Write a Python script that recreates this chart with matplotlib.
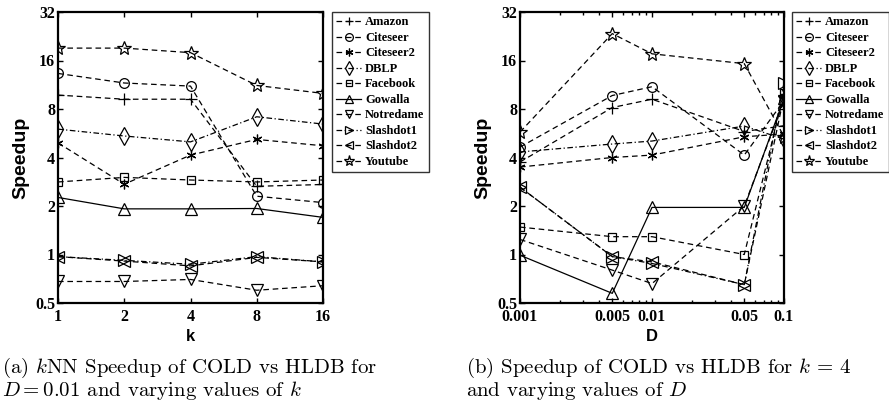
import matplotlib
matplotlib.use("Agg")
import matplotlib.pyplot as plt
from matplotlib.ticker import FixedLocator, FixedFormatter, NullFormatter, LogLocator

plt.rcParams['mathtext.fontset'] = 'cm'

series = ["Amazon", "Citeseer", "Citeseer2", "DBLP", "Facebook",
          "Gowalla", "Notredame", "Slashdot1", "Slashdot2", "Youtube"]

k_vals = [1, 2, 4, 8, 16]
amazon_k = [9.76, 9.2, 9.2, 2.65, 2.72]
citeseer_k = [13.3, 11.6, 11.1, 2.3, 2.1]
citeseer2_k = [4.93, 2.73, 4.14, 5.18, 4.73]
dblp_k = [6.0, 5.44, 5.0, 7.16, 6.45]
facebook_k = [2.82, 3.01, 2.9, 2.82, 2.9]
gowalla_k = [2.26, 1.92, 1.92, 1.93, 1.70]
notredame_k = [0.68, 0.68, 0.70, 0.60, 0.64]
slashdot1_k = [0.97, 0.92, 0.87, 0.97, 0.90]
slashdot2_k = [0.97, 0.91, 0.85, 0.96, 0.90]
youtube_k = [19.1, 19.1, 17.9, 11.2, 10.0]

d_vals = [0.001, 0.005, 0.01, 0.05, 0.1]
amazon_d = [3.75, 8.17, 9.2, 5.8, 6.3]
citeseer_d = [4.64, 9.7, 11.0, 4.14, 9.0]
citeseer2_d = [3.49, 4.0, 4.14, 5.38, 5.6]
dblp_d = [4.33, 4.85, 5.06, 6.27, 5.2]
facebook_d = [1.48, 1.29, 1.29, 1.0, 10.0]
gowalla_d = [0.99, 0.574, 1.96, 1.96, 9.3]
notredame_d = [1.24, 0.80, 0.66, 2.0, 9.0]
slashdot1_d = [2.62, 0.97, 0.88, 0.65, 11.6]
slashdot2_d = [2.62, 0.97, 0.90, 0.65, 9.6]
youtube_d = [5.75, 23.5, 17.6, 15.3, 5.4]

y_ticks = [0.5, 1, 2, 4, 8, 16, 32]
y_ticklabels = ["0.5", "1", "2", "4", "8", "16", "32"]
k_ticklabels = ["1", "2", "4", "8", "16"]
d_ticklabels = ["0.001", "0.005", "0.01", "0.05", "0.1"]

caption_a = [r"(a) $k$NN Speedup of COLD vs HLDB for", r"$D = 0.01$ and varying values of $k$"]
caption_b = [r"(b) Speedup of COLD vs HLDB for $k$ = 4", r"and varying values of $D$"]

data_k = [amazon_k, citeseer_k, citeseer2_k, dblp_k, facebook_k,
          gowalla_k, notredame_k, slashdot1_k, slashdot2_k, youtube_k]
data_d = [amazon_d, citeseer_d, citeseer2_d, dblp_d, facebook_d,
          gowalla_d, notredame_d, slashdot1_d, slashdot2_d, youtube_d]

DASH = (0, (4.5, 3))
DASHDOT = (0, (4.5, 2, 1, 2))
styles = [
    dict(marker='+', linestyle=DASH, ms=8),
    dict(marker='o', linestyle=DASH, ms=7),
    dict(marker=(6, 2, 0), linestyle=DASH, ms=7),
    dict(marker='d', linestyle=DASHDOT, ms=9),
    dict(marker='s', linestyle=DASH, ms=6),
    dict(marker='^', linestyle='-', ms=8),
    dict(marker='v', linestyle=DASH, ms=8),
    dict(marker='>', linestyle=DASHDOT, ms=8),
    dict(marker='<', linestyle=DASH, ms=8),
    dict(marker='*', linestyle=DASH, ms=10),
]

tick_font = dict(family='Liberation Serif', weight='bold', size=11.5)
label_font = dict(family='Liberation Sans', weight='bold')

fig = plt.figure(figsize=(8.89, 4.08), dpi=100)
ax1 = fig.add_axes([58/889, 1-303/408, 265/889, 291/408])
ax2 = fig.add_axes([520/889, 1-303/408, 264/889, 291/408])

def draw(ax, xs, data, xticklabels, xlabel, minor, legx):
    for name, ys, st in zip(series, data, styles):
        ax.plot(xs, ys, color='black', linewidth=0.9, linestyle=st['linestyle'],
                marker=st['marker'], markersize=st['ms'], markerfacecolor='none',
                markeredgecolor='black', markeredgewidth=0.9, label=name)
    ax.set_xscale('log')
    ax.set_yscale('log')
    ax.set_xlim(xs[0], xs[-1])
    ax.set_ylim(0.5, 32)
    ax.yaxis.set_major_locator(FixedLocator(y_ticks))
    ax.yaxis.set_major_formatter(FixedFormatter(y_ticklabels))
    ax.yaxis.set_minor_locator(FixedLocator([]))
    ax.xaxis.set_major_locator(FixedLocator(xs))
    ax.xaxis.set_major_formatter(FixedFormatter(xticklabels))
    if minor:
        ax.xaxis.set_minor_locator(LogLocator(base=10, subs=range(2, 10)))
        ax.xaxis.set_minor_formatter(NullFormatter())
    else:
        ax.xaxis.set_minor_locator(FixedLocator([]))
    ax.tick_params(which='both', direction='in', top=True, right=True,
                   width=1.0, colors='black')
    ax.tick_params(which='major', length=3.5)
    ax.tick_params(which='minor', length=2)
    ax.tick_params(axis='x', pad=4)
    ax.tick_params(axis='y', pad=2)
    for lab in ax.get_xticklabels() + ax.get_yticklabels():
        lab.set_fontfamily(tick_font['family'])
        lab.set_fontweight('bold')
        lab.set_fontsize(tick_font['size'])
    for sp in ax.spines.values():
        sp.set_linewidth(1.6)
    ax.set_ylabel("Speedup", fontsize=14, labelpad=4, **label_font)
    ax.set_xlabel(xlabel, fontsize=12, labelpad=3, **label_font)
    leg = fig.legend(*ax.get_legend_handles_labels(), loc='upper left',
                     bbox_to_anchor=(legx, 1-12/408), bbox_transform=fig.transFigure,
                     prop=dict(family='Liberation Serif', weight='bold', size=9),
                     handlelength=2.0, handletextpad=0.3, labelspacing=0.28,
                     borderpad=0.35, borderaxespad=0, frameon=True, fancybox=False,
                     edgecolor='black', markerscale=0.8)
    leg.get_frame().set_linewidth(1.0)

draw(ax1, k_vals, data_k, k_ticklabels, "k", False, 332/889)
draw(ax2, d_vals, data_d, d_ticklabels, "D", True, 792/889)

cap_font = dict(family='cmr10', size=15)
fig.text(2/889, 1-368/408, caption_a[0], va='center', ha='left', **cap_font)
fig.text(2/889, 1-391/408, caption_a[1], va='center', ha='left', **cap_font)
fig.text(466/889, 1-368/408, caption_b[0], va='center', ha='left', **cap_font)
fig.text(466/889, 1-391/408, caption_b[1], va='center', ha='left', **cap_font)

fig.savefig("out.png", dpi=100)
